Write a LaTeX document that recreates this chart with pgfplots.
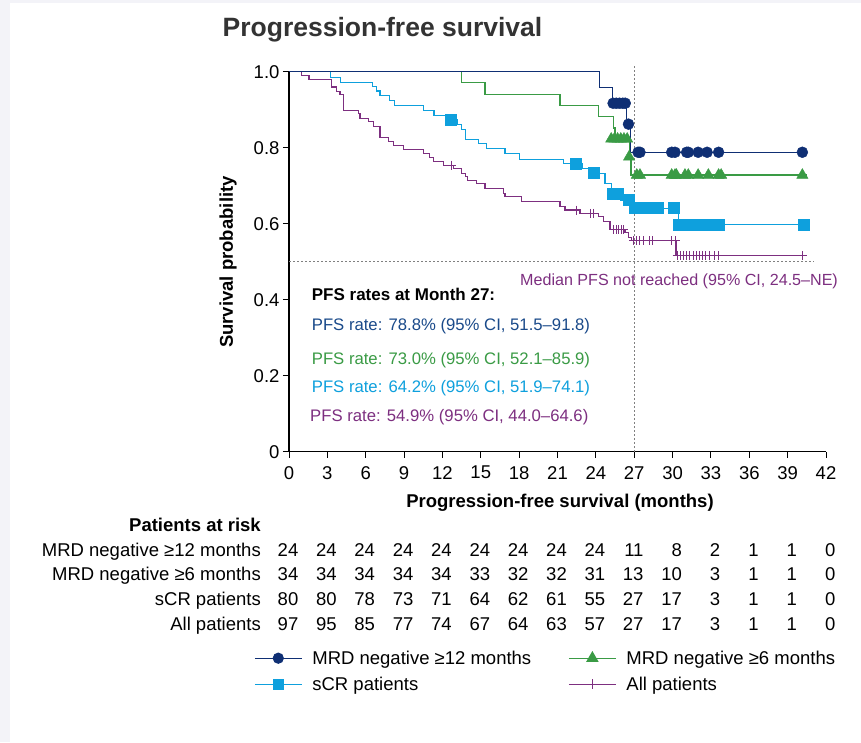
\documentclass[border=0pt]{standalone}
\usepackage{pgfplots}
\pgfplotsset{compat=1.18}
\usepackage{fontspec}
\setmainfont{Liberation Sans}
\definecolor{navy}{HTML}{0F2F74}
\definecolor{navytext}{HTML}{1A4A8A}
\definecolor{grn}{HTML}{3A9B45}
\definecolor{lblue}{HTML}{0EA0DD}
\definecolor{purp}{HTML}{7D2F80}
\definecolor{titlegray}{HTML}{333333}
\definecolor{bgstrip}{HTML}{F3F3F8}
\newcommand\tabfont{\fontsize{18.5}{22}\selectfont}
\begin{document}
\begin{tikzpicture}
\fill[bgstrip] (-289pt,-290.3pt) rectangle (572pt,451.7pt);
\fill[white] (-279pt,-290.3pt) rectangle (572pt,448.7pt);
\path[use as bounding box] (-289pt,-290.3pt) rectangle (572pt,451.7pt);
\begin{axis}[
  at={(0pt,0pt)}, anchor=south west, scale only axis,
  width=537pt, height=380pt,
  xmin=0, xmax=42, ymin=0, ymax=1,
  clip=false,
  axis lines=left,
  axis line style={-, line width=1.1pt, black},
  xtick={0,3,...,42},
  ytick={0,0.2,0.4,0.6,0.8,1},
  yticklabels={0,0.2,0.4,0.6,0.8,1.0},
  major tick length=6pt, tick align=outside,
  tick style={black, line width=1pt},
  ticklabel style={font=\tabfont},
  xticklabel style={yshift=-5pt},
  /pgf/number format/assume math mode=true,
  xlabel={Progression-free survival (months)},
  ylabel={Survival probability},
  every axis x label/.style={at={(axis description cs:0.5047,-0.135)}, anchor=center, font=\bfseries\tabfont},
  every axis y label/.style={at={(axis description cs:-0.1136,0.499)}, rotate=90, anchor=center, font=\bfseries\tabfont},
  legend columns=2,
  legend cell align=left,
  legend style={at={(axis description cs:-0.0652,-0.518)}, anchor=north west, draw=none, fill=none, inner sep=0pt, font=\tabfont,
     /tikz/every odd column/.append style={column sep=8pt},
     /tikz/every even column/.append style={column sep=35pt}, row sep=7pt},
  legend image code/.code={\draw[mark repeat=2, mark phase=2, #1] plot coordinates {(0pt,0pt)(23.5pt,0pt)(47pt,0pt)};},
]
% reference lines
\addplot[gray, dash pattern=on 2pt off 2pt, line width=0.8pt, forget plot] coordinates {(0,0.5)(41,0.5)};
\addplot[gray, dash pattern=on 2pt off 2pt, line width=0.8pt, forget plot] coordinates {(27,0)(27,1.02)};
% All patients
\addplot[purp, line width=1.2pt, const plot, forget plot] coordinates {
(0,1)(0.99,0.990)(1.56,0.979)(3.34,0.960)(3.73,0.947)(3.99,0.939)(4.25,0.897)(5.42,0.891)(5.55,0.877)(6.2,0.868)(6.6,0.855)(7.12,0.826)(7.77,0.816)(8.16,0.805)(8.94,0.796)(10.5,0.785)(10.97,0.774)(11.29,0.763)(12.07,0.754)(12.85,0.746)(13.5,0.733)(13.82,0.724)(13.98,0.713)(14.68,0.706)(15.33,0.693)(16.76,0.680)(16.89,0.671)(18.2,0.658)(21.19,0.645)(21.59,0.636)(22.76,0.627)(24.19,0.618)(24.58,0.605)(25.1,0.584)(26.28,0.577)(26.54,0.564)(26.8,0.555)(30.27,0.516)(40.5,0.516)};
\addplot[purp, only marks, mark=+, mark size=4.5pt, mark options={line width=1pt}, forget plot] coordinates {
(12.72,0.754)(22.5,0.636)(23.6,0.627)(23.85,0.627)(25.4,0.584)(25.6,0.584)(25.8,0.584)(26.0,0.584)(26.15,0.584)
(26.95,0.555)(27.2,0.555)(27.45,0.555)(27.7,0.555)(28.2,0.555)(28.45,0.555)(29.93,0.555)(30.19,0.555)
(30.35,0.516)(30.6,0.516)(30.85,0.516)(31.1,0.516)(31.35,0.516)(31.6,0.516)(31.85,0.516)(32.1,0.516)(32.35,0.516)(32.6,0.516)(32.85,0.516)(33.3,0.516)(33.6,0.516)(40.15,0.516)};
% sCR patients
\addplot[lblue, line width=1.2pt, const plot, forget plot] coordinates {
(0,1)(3.26,0.985)(4.04,0.972)(6.54,0.962)(6.86,0.949)(7.12,0.937)(7.85,0.924)(8.24,0.911)(10.5,0.897)(11.34,0.884)(12.28,0.873)(13.16,0.862)(13.5,0.848)(13.82,0.822)(14.8,0.812)(15.45,0.798)(16.89,0.785)(18.01,0.770)(21.45,0.759)(22.97,0.746)(23.4,0.733)(24.71,0.706)(25.24,0.680)(25.9,0.662)(26.8,0.641)(30.45,0.598)(40.5,0.598)};
\addplot[lblue, only marks, mark=square*, mark size=5.5pt, forget plot] coordinates {
(12.67,0.873)(22.45,0.759)(23.8,0.733)(25.3,0.680)(25.5,0.680)(25.7,0.680)(26.6,0.662)
(27.0,0.641)(27.3,0.641)(27.6,0.641)(27.9,0.641)(28.2,0.641)(28.5,0.641)(28.8,0.641)(30.1,0.641)
(30.45,0.598)(30.7,0.598)(30.95,0.598)(31.2,0.598)(31.45,0.598)(31.7,0.598)(31.95,0.598)(32.2,0.598)(32.45,0.598)(32.7,0.598)(32.95,0.598)(33.6,0.598)(40.27,0.598)};
% MRD negative >=6 months
\addplot[grn, line width=1.2pt, const plot, forget plot] coordinates {
(0,1)(13.5,0.971)(15.33,0.941)(21.19,0.912)(24.19,0.883)(25.37,0.852)(25.5,0.823)(26.6,0.776)(26.75,0.728)(40.5,0.728)};
\addplot[grn, only marks, mark=triangle*, mark size=6.5pt, forget plot] coordinates {
(25.2,0.823)(25.45,0.823)(25.7,0.823)(25.95,0.823)(26.2,0.823)(26.45,0.823)(26.6,0.776)
(27.2,0.728)(27.45,0.728)(29.93,0.728)(30.19,0.728)(30.3,0.728)(30.97,0.728)(31.23,0.728)(32.0,0.728)(32.8,0.728)(33.6,0.728)(33.8,0.728)(40.15,0.728)};
% MRD negative >=12 months
\addplot[navy, line width=1.2pt, const plot, forget plot] coordinates {
(0,1)(24.27,0.958)(25.32,0.917)(26.4,0.862)(26.7,0.788)(40.5,0.788)};
\addplot[navy, only marks, mark=*, mark size=5.5pt, forget plot] coordinates {
(25.35,0.917)(25.6,0.917)(25.85,0.917)(26.1,0.917)(26.3,0.917)(26.55,0.862)
(27.3,0.788)(27.45,0.788)(29.93,0.788)(30.19,0.788)(31.1,0.788)(31.23,0.788)(32.0,0.788)(32.7,0.788)(33.6,0.788)(40.15,0.788)};
% legend
\addlegendimage{navy, line width=1.2pt, mark=*, mark size=5pt}
\addlegendentry{MRD negative ≥12 months}
\addlegendimage{grn, line width=1.2pt, mark=triangle*, mark size=6pt}
\addlegendentry{MRD negative ≥6 months}
\addlegendimage{lblue, line width=1.2pt, mark=square*, mark size=5pt}
\addlegendentry{sCR patients}
\addlegendimage{purp, line width=1.2pt, mark=+, mark size=5pt}
\addlegendentry{All patients}
\end{axis}
% title
\node[font=\bfseries\fontsize{26.5}{30}\selectfont, text=titlegray, anchor=base] at (93.5pt,415pt) {Progression-free survival};
% annotations
\node[font=\fontsize{16.1}{19}\selectfont, text=purp, anchor=base west, inner sep=0pt] at (231pt,166.7pt) {Median PFS not reached (95\% CI, 24.5–NE)};
\node[font=\bfseries\fontsize{17}{20}\selectfont, anchor=base west, inner sep=0pt] at (22.7pt,151pt) {PFS rates at Month 27:};
\node[font=\fontsize{16.7}{20}\selectfont, text=navytext, anchor=base west, inner sep=0pt] at (22.7pt,121.7pt) {PFS rate: 78.8\% (95\% CI, 51.5–91.8)};
\node[font=\fontsize{16.7}{20}\selectfont, text=grn, anchor=base west, inner sep=0pt] at (22.7pt,87.7pt) {PFS rate: 73.0\% (95\% CI, 52.1–85.9)};
\node[font=\fontsize{16.7}{20}\selectfont, text=lblue, anchor=base west, inner sep=0pt] at (22.7pt,59pt) {PFS rate: 64.2\% (95\% CI, 51.9–74.1)};
\node[font=\fontsize{16.7}{20}\selectfont, text=purp, anchor=base west, inner sep=0pt] at (21pt,30pt) {PFS rate: 54.9\% (95\% CI, 44.0–64.6)};
% patients at risk table
\node[font=\bfseries\tabfont, anchor=base east, inner sep=0pt] at (-28pt,-80pt) {Patients at risk};
\node[font=\tabfont, anchor=base east, inner sep=0pt] at (-28pt,-104.3pt) {MRD negative ≥12 months};
\node[font=\tabfont, anchor=base east, inner sep=0pt] at (-28pt,-129pt) {MRD negative ≥6 months};
\node[font=\tabfont, anchor=base east, inner sep=0pt] at (-28pt,-154pt) {sCR patients};
\node[font=\tabfont, anchor=base east, inner sep=0pt] at (-28pt,-178.3pt) {All patients};
\foreach \v [count=\i from 0] in {24,24,24,24,24,24,24,24,24,11,8,2,1,1,0}
  \node[font=\tabfont, anchor=base east, inner sep=0pt] at ({\i*38.357pt+9.5pt},-104.3pt) {\v};
\foreach \v [count=\i from 0] in {34,34,34,34,34,33,32,32,31,13,10,3,1,1,0}
  \node[font=\tabfont, anchor=base east, inner sep=0pt] at ({\i*38.357pt+9.5pt},-129pt) {\v};
\foreach \v [count=\i from 0] in {80,80,78,73,71,64,62,61,55,27,17,3,1,1,0}
  \node[font=\tabfont, anchor=base east, inner sep=0pt] at ({\i*38.357pt+9.5pt},-154pt) {\v};
\foreach \v [count=\i from 0] in {97,95,85,77,74,67,64,63,57,27,17,3,1,1,0}
  \node[font=\tabfont, anchor=base east, inner sep=0pt] at ({\i*38.357pt+9.5pt},-178.3pt) {\v};
\end{tikzpicture}
\end{document}
